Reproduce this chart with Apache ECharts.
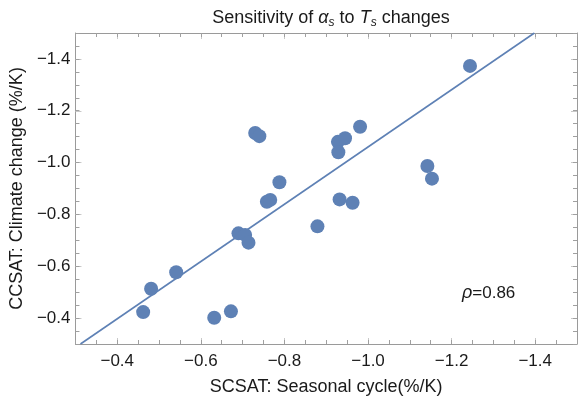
<!DOCTYPE html>
<html><head><meta charset="utf-8">
<script src="https://cdn.jsdelivr.net/npm/echarts@6/dist/echarts.min.js"></script>
<style>html,body{margin:0;padding:0;background:#fff}#c{width:581px;height:402px}</style>
</head><body><div id="c"></div>
<script>
// Seasonal cycle sensitivity (x) and climate change sensitivity (y), %/K
const seasonalX = [-1.244,-0.730,-0.740,-0.928,-0.945,-0.929,-0.981,-1.142,-1.153,-0.788,-0.758,-0.766,-0.932,-0.963,-0.879,-0.690,-0.706,-0.714,-0.541,-0.481,-0.462,-0.632,-0.672];
const climateY  = [-1.373,-1.114,-1.102,-1.080,-1.094,-1.040,-1.138,-0.987,-0.938,-0.924,-0.849,-0.856,-0.858,-0.845,-0.754,-0.727,-0.721,-0.691,-0.577,-0.513,-0.423,-0.401,-0.426];
const fitLineX = [-0.312, -1.398];
const fitLineY = [-0.3, -1.5];
const majorTicks = [-0.4,-0.6,-0.8,-1.0,-1.2,-1.4];
const minorTicks = [];
for (let i = 6; i <= 30; i++) minorTicks.push(-i * 0.05);
const rho = '0.86';

const C = '#5E81B5';
const FONT = 'Liberation Sans';
const fmt = v => '\u2212' + Math.abs(v).toFixed(1);

function axis(kind, pos, idx, major, labels) {
  const a = {
    type: 'value', min: -1.5, max: -0.3, inverse: true, position: pos,
    gridIndex: 0, splitLine: {show: false},
    axisLine: {show: major, onZero: false, lineStyle: {color: '#9a9a9a', width: 1}},
    axisTick: {show: true, inside: true, length: major ? 6 : 4,
      customValues: major ? majorTicks : minorTicks,
      lineStyle: {color: major ? '#c8c8c8' : '#a0a0a0', width: 1}},
    axisLabel: {show: labels, customValues: majorTicks, formatter: fmt,
      color: '#1a1a1a', fontFamily: FONT, fontSize: 17, margin: kind === 'x' ? 9 : 5},
  };
  return a;
}

const xAxes = [axis('x','bottom',0,true,true), axis('x','bottom',1,false,false), axis('x','top',2,true,false), axis('x','top',3,false,false)];
const yAxes = [axis('y','left',0,true,true), axis('y','left',1,false,false), axis('y','right',2,true,false), axis('y','right',3,false,false)];
xAxes[0].name = 'SCSAT: Seasonal cycle(%/K)';
xAxes[0].nameLocation = 'middle';
xAxes[0].nameGap = 34;
xAxes[0].nameTextStyle = {color: '#1a1a1a', fontFamily: FONT, fontSize: 18};
yAxes[0].name = 'CCSAT: Climate change (%/K)';
yAxes[0].nameLocation = 'middle';
yAxes[0].nameGap = 47;
yAxes[0].nameTextStyle = {color: '#1a1a1a', fontFamily: FONT, fontSize: 18};

const chart = echarts.init(document.getElementById('c'), null, {renderer: 'canvas'});
chart.setOption({
  animation: false,
  backgroundColor: '#fff',
  title: {
    text: 'Sensitivity of {i|α}{s|s} to {i|T}{s|s} changes',
    left: 326, top: 2, textAlign: 'center',
    textStyle: {fontFamily: FONT, fontSize: 18, fontWeight: 'normal', color: '#1a1a1a',
      rich: {
        i: {fontFamily: FONT, fontSize: 18, fontStyle: 'italic', color: '#1a1a1a'},
        s: {fontFamily: FONT, fontSize: 12, fontStyle: 'italic', color: '#1a1a1a', verticalAlign: 'bottom', padding: [10,0,0,0]}
      }}
  },
  grid: {left: 75, right: 4, top: 33, bottom: 58, containLabel: false},
  xAxis: xAxes,
  yAxis: yAxes,
  graphic: [{
    type: 'text', left: 462, top: 284,
    style: {text: '{r|ρ}=' + rho, fontFamily: FONT, fontSize: 17, fill: '#1a1a1a',
      rich: {r: {fontFamily: FONT, fontSize: 18, fontStyle: 'italic', fill: '#1a1a1a'}}}
  }],
  series: [
    {type: 'line', xAxisIndex: 0, yAxisIndex: 0, showSymbol: false, silent: true,
     data: fitLineX.map((x, i) => [x, fitLineY[i]]),
     lineStyle: {color: C, width: 1.6}, z: 2},
    {type: 'scatter', xAxisIndex: 0, yAxisIndex: 0, symbolSize: 14,
     data: seasonalX.map((x, i) => [x, climateY[i]]),
     itemStyle: {color: C, opacity: 1}, z: 3}
  ]
});
</script></body></html>
